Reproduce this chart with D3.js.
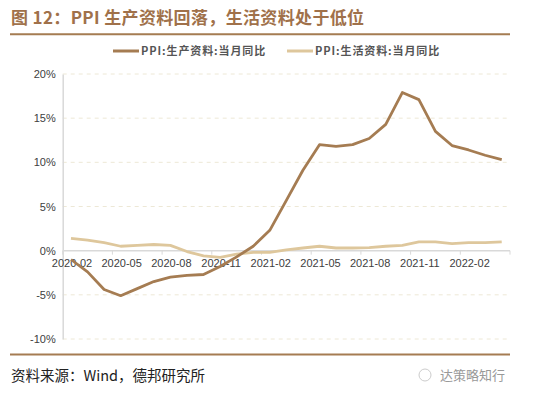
<!DOCTYPE html>
<html><head><meta charset="utf-8">
<script src="https://cdn.jsdelivr.net/npm/d3@7"></script>
<style>body{margin:0;background:#fff;}svg{display:block;}</style>
</head><body>
<svg id="c" width="550" height="394"></svg>
<script>
const months = ["2020-02","2020-03","2020-04","2020-05","2020-06","2020-07","2020-08","2020-09","2020-10","2020-11","2020-12","2021-01","2021-02","2021-03","2021-04","2021-05","2021-06","2021-07","2021-08","2021-09","2021-10","2021-11","2021-12","2022-01","2022-02","2022-03","2022-04"];
const producer = [-1.0,-2.4,-4.4,-5.1,-4.3,-3.5,-3.0,-2.8,-2.7,-1.8,-0.7,0.5,2.3,5.7,9.1,12.0,11.8,12.0,12.7,14.3,17.9,17.1,13.5,11.9,11.4,10.8,10.3];
const consumer = [1.4,1.2,0.9,0.5,0.6,0.7,0.6,-0.1,-0.6,-0.75,-0.4,-0.2,-0.2,0.1,0.3,0.5,0.3,0.3,0.35,0.5,0.6,1.0,1.0,0.8,0.9,0.9,1.0];
const tickLabels = ["2020-02","2020-05","2020-08","2020-11","2021-02","2021-05","2021-08","2021-11","2022-02"];
const yTicks = [-10,-5,0,5,10,15,20];
const seriesNames = ["PPI:生产资料:当月同比","PPI:生活资料:当月同比"];
const colors = ["#A57C52","#DEC79C"];

const svg = d3.select("#c");
const font = "'Noto Sans CJK SC','Noto Sans',sans-serif";
const L = 62.7, R = 510, T = 74, B = 339;
const x = d3.scaleBand().domain(months).range([L, R]);
const y = d3.scaleLinear().domain([-10, 20]).range([B, T]);

// title
svg.append("text").attr("x", 11).attr("y", 23.5).attr("font-family", font).attr("font-size", 17)
  .attr("font-weight", "bold").attr("letter-spacing", 0.35).attr("fill", "#A0714A").text("图 12：PPI 生产资料回落，生活资料处于低位");
svg.append("line").attr("x1", 10).attr("x2", 510).attr("y1", 34.3).attr("y2", 34.3).attr("stroke", "#A57C52").attr("stroke-width", 2);
svg.append("line").attr("x1", 10).attr("x2", 510).attr("y1", 354.5).attr("y2", 354.5).attr("stroke", "#A57C52").attr("stroke-width", 2);

// grid
svg.append("g").selectAll("line").data(yTicks.filter(d => d !== 0)).join("line")
  .attr("x1", L).attr("x2", R).attr("y1", d => y(d)).attr("y2", d => y(d))
  .attr("stroke", "#EDE8D6").attr("stroke-width", 1).attr("stroke-dasharray", "4,4");

// y axis
const yAxis = svg.append("g").attr("transform", `translate(${L},0)`)
  .call(d3.axisLeft(y).tickValues(yTicks).tickFormat(d => d + "%").tickSize(0).tickPadding(7));
yAxis.select(".domain").attr("stroke", "#D9D9D9").attr("stroke-width", 1.5);
yAxis.selectAll("text").attr("font-family", "'Liberation Sans',Arial,sans-serif").attr("font-size", 11).attr("fill", "#404040");

// x axis at 0
const xg = svg.append("g").attr("transform", `translate(0,${y(0)})`);
xg.append("line").attr("x1", L).attr("x2", R).attr("stroke", "#D9D9D9").attr("stroke-width", 1.5);
const tickPos = tickLabels.map(m => x(m)).concat([R]);
xg.selectAll("line.t").data(tickPos).join("line").attr("class", "t")
  .attr("x1", d => d).attr("x2", d => d).attr("y1", 0).attr("y2", 4).attr("stroke", "#D9D9D9");
xg.selectAll("text").data(tickLabels).join("text")
  .attr("x", d => x(d) + x.bandwidth() / 2 + 1).attr("y", 16)
  .attr("text-anchor", "middle").attr("font-family", "'Liberation Sans',Arial,sans-serif")
  .attr("font-size", 11).attr("fill", "#404040").text(d => d);

// lines
const line = d3.line().x((d, i) => x(months[i]) + x.bandwidth() / 2).y(d => y(d));
[consumer, producer].forEach((s, k) => {
  svg.append("path").datum(s).attr("d", line).attr("fill", "none")
    .attr("stroke", k === 0 ? colors[1] : colors[0]).attr("stroke-width", 2.8).attr("stroke-linejoin", "round");
});

// legend
const leg = [{x: 113, t: seriesNames[0], c: colors[0]}, {x: 287, t: seriesNames[1], c: colors[1]}];
leg.forEach(l => {
  svg.append("line").attr("x1", l.x).attr("x2", l.x + 26).attr("y1", 51).attr("y2", 51).attr("stroke", l.c).attr("stroke-width", 3);
  svg.append("text").attr("x", l.x + 28).attr("y", 55).attr("font-family", font).attr("font-size", 11)
    .attr("font-weight", "bold").attr("letter-spacing", 0.9).attr("fill", "#555").text(l.t);
});

// source
svg.append("text").attr("x", 11).attr("y", 381).attr("font-family", font).attr("font-size", 14.5)
  .attr("fill", "#222").text("资料来源：Wind，德邦研究所");
svg.append("text").attr("x", 505).attr("y", 380).attr("text-anchor", "end").attr("font-family", font).attr("font-size", 13)
  .attr("fill", "#999").text("达策略知行");
svg.append("circle").attr("cx", 425).attr("cy", 375).attr("r", 6).attr("fill", "none").attr("stroke", "#ccc").attr("stroke-width", 1);
</script>
</body></html>
